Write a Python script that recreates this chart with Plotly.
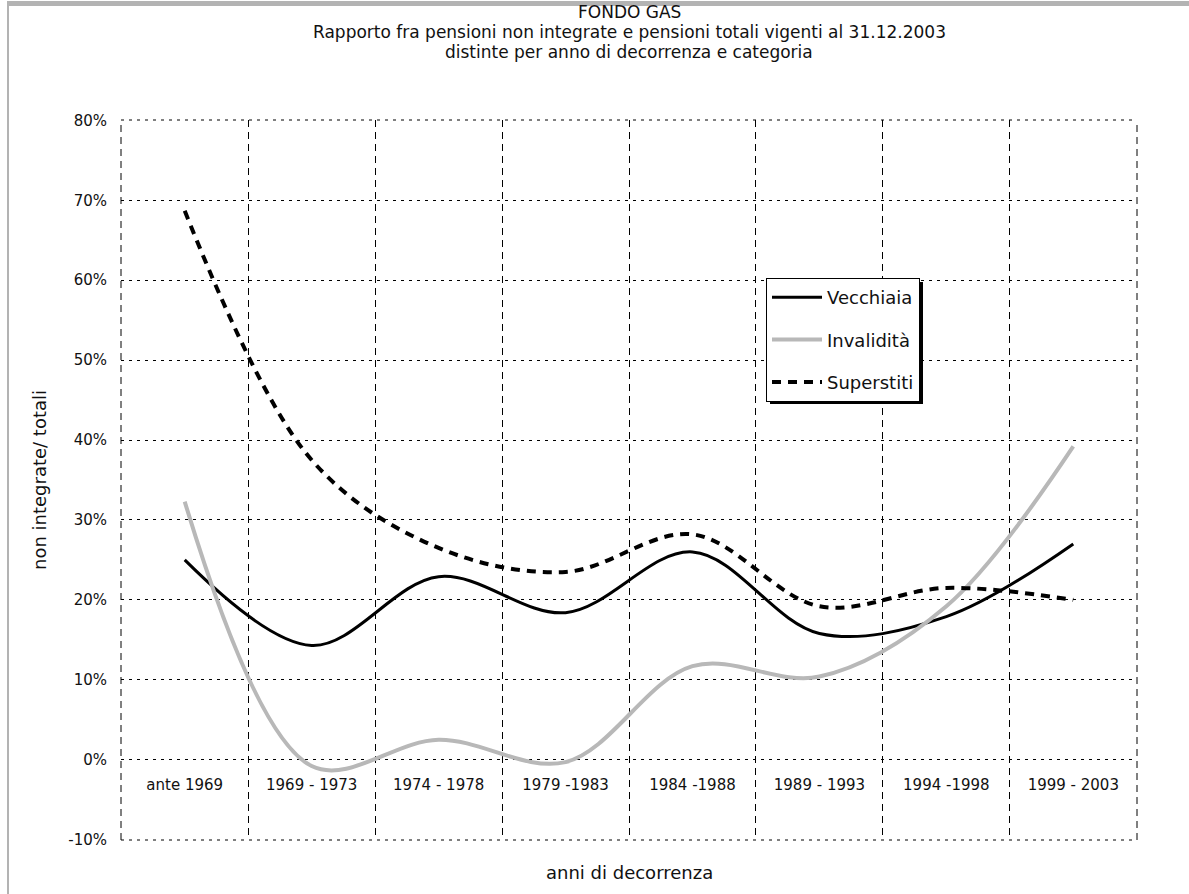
import plotly.graph_objects as go

categories = ["ante 1969", "1969 - 1973", "1974 - 1978", "1979 -1983",
              "1984 -1988", "1989 - 1993", "1994 -1998", "1999 - 2003"]
vecchiaia = [25.0, 14.3, 22.9, 18.4, 26.0, 15.8, 17.9, 27.0]
invalidita = [32.3, -0.8, 2.5, -0.3, 11.7, 10.4, 19.2, 39.2]
superstiti = [68.7, 37.5, 26.5, 23.5, 28.2, 19.2, 21.5, 20.0]
y_ticks = list(range(-10, 81, 10))
y_ticktext = [f"{v}%" for v in y_ticks]
title_lines = ["FONDO GAS",
               "Rapporto fra pensioni non integrate e pensioni totali vigenti al 31.12.2003",
               "distinte per anno di decorrenza e categoria"]

FONT = "DejaVu Sans"
TXT = "#111111"

fig = go.Figure()
fig.add_trace(go.Scatter(x=categories, y=vecchiaia, name="Vecchiaia", mode="lines",
                         line=dict(color="black", width=3, shape="spline", smoothing=1),
                         legendgroup="a"))
fig.add_trace(go.Scatter(x=categories, y=invalidita, name="Invalidità", mode="lines",
                         line=dict(color="#b8b8b8", width=4, shape="spline", smoothing=1),
                         legendgroup="b"))
fig.add_trace(go.Scatter(x=categories, y=superstiti, name="Superstiti", mode="lines",
                         line=dict(color="black", width=4, shape="spline", smoothing=1,
                                   dash="9px,7px"),
                         legendgroup="c"))

L, R, T, B = 121, 52, 120, 54
W, H = 1189, 894
pw, ph = W - L - R, H - T - B

def px(x):
    return (x - L) / pw

def py(y):
    return (H - B - y) / ph

yr = [-10.05, 80.05]
zero_pos = (0 - yr[0]) / (yr[1] - yr[0])

annotations = []
for i, line in enumerate(title_lines):
    annotations.append(dict(text=line, xref="paper", yref="paper", x=0.5, y=py(12 + 20 * i),
                            xanchor="center", yanchor="middle", showarrow=False,
                            font=dict(family=FONT, size=17, color=TXT)))
annotations.append(dict(text="anni di decorrenza", xref="paper", yref="paper",
                        x=0.5, y=py(872), xanchor="center", yanchor="middle",
                        showarrow=False, font=dict(family=FONT, size=18, color=TXT)))

edge_dot = dict(color="black", width=1, dash="3px,5px")
edge_dash = dict(color="black", width=1, dash="7px,5px")

fig.update_layout(
    width=W, height=H,
    margin=dict(l=L, r=R, t=T, b=B, autoexpand=False),
    paper_bgcolor="white", plot_bgcolor="white",
    font=dict(family=FONT, size=15, color=TXT),
    showlegend=True,
    legend=dict(x=px(766), y=py(278), xanchor="left", yanchor="top",
                bgcolor="white", bordercolor="black", borderwidth=1,
                font=dict(family=FONT, size=18, color=TXT), itemwidth=50,
                tracegroupgap=16, traceorder="grouped"),
    xaxis=dict(type="category", range=[-0.502, 7.502], tickson="boundaries",
               showgrid=True, gridcolor="black", gridwidth=1, griddash="7px,5px",
               anchor="free", position=zero_pos, showline=False, zeroline=False,
               ticks="", ticklabelstandoff=14,
               tickfont=dict(family=FONT, size=15, color=TXT)),
    yaxis=dict(range=yr, tickvals=y_ticks, ticktext=y_ticktext,
               showgrid=True, gridcolor="black", gridwidth=1, griddash="3px,5px",
               zeroline=False, showline=False,
               ticks="outside", ticklen=10, tickcolor="rgba(0,0,0,0)",
               tickfont=dict(family=FONT, size=15, color=TXT),
               title=dict(text="non integrate/ totali", standoff=16,
                          font=dict(family=FONT, size=18, color=TXT))),
    annotations=annotations,
    shapes=[
        dict(type="line", xref="paper", yref="paper", x0=0, x1=1, y0=1, y1=1,
             line=edge_dot, layer="below"),
        dict(type="line", xref="paper", yref="paper", x0=0, x1=1, y0=0, y1=0,
             line=edge_dot, layer="below"),
        dict(type="line", xref="paper", yref="paper", x0=0, x1=0, y0=0, y1=1,
             line=edge_dash, layer="below"),
        dict(type="line", xref="paper", yref="paper", x0=1, x1=1, y0=0, y1=1,
             line=edge_dash, layer="below"),
        dict(type="rect", xref="paper", yref="paper", x0=px(770), x1=px(923),
             y0=py(404), y1=py(282), fillcolor="black", line=dict(width=0), layer="above"),
        dict(type="rect", xref="paper", yref="paper", x0=px(7), x1=px(W + 5),
             y0=py(6), y1=py(1), fillcolor="#b3b3b3", line=dict(width=0)),
        dict(type="rect", xref="paper", yref="paper", x0=px(7), x1=px(9),
             y0=py(H + 5), y1=py(1), fillcolor="#b3b3b3", line=dict(width=0)),
    ],
)

fig.write_html("out.html", config={"displayModeBar": False},
               post_script="document.body.style.margin='0px';")
